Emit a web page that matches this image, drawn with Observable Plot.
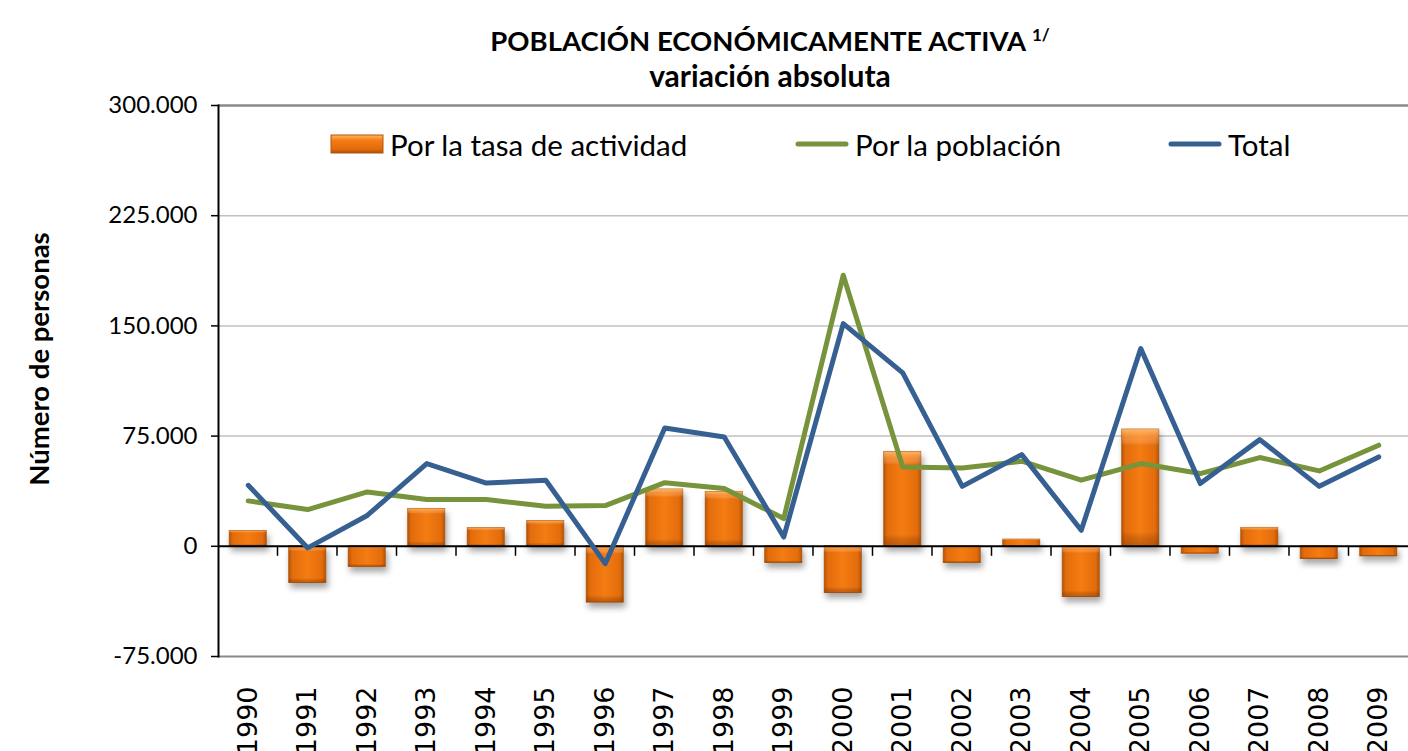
<!DOCTYPE html>
<html>
<head>
<meta charset="utf-8">
<script src="https://cdn.jsdelivr.net/npm/d3@7"></script>
<script src="https://cdn.jsdelivr.net/npm/@observablehq/plot@0.6"></script>
<style>
  html, body { margin: 0; padding: 0; background: #fff; overflow: hidden; width: 1408px; height: 751px; }
  #wrap { position: relative; width: 1408px; }
  #title { box-sizing: border-box; height: 95px; padding-top: 23px; padding-left: 132px; text-align: center;
           font-family: Lato, "Open Sans", sans-serif; font-weight: bold; font-size: 27.5px; line-height: 35px; color: #000; }
  #title .l2 { font-size: 30px; }
  #title sup { font-size: 17px; vertical-align: 10px; line-height: 0; }
  #legend { position: absolute; left: 0; top: 0; width: 1408px; height: 0; font-family: Lato, "Open Sans", sans-serif; font-size: 29.5px; color: #000; }
  .item { position: absolute; top: 126px; display: flex; align-items: center; height: 36px; white-space: nowrap; }
  .item svg { margin-right: 6px; }
  #chart .shadowbars { filter: drop-shadow(2px 5px 3px rgba(0,0,0,0.35)); }
</style>
</head>
<body>
<div id="wrap">
  <div id="title">POBLACIÓN ECONÓMICAMENTE ACTIVA <sup>1/</sup><br><span class="l2">variación absoluta</span></div>
  <div id="chart"></div>
  <div id="legend"></div>
</div>
<script>
// ---- data ----
const years = ["1990","1991","1992","1993","1994","1995","1996","1997","1998","1999",
               "2000","2001","2002","2003","2004","2005","2006","2007","2008","2009"];
const porTasa = [10400, -25000, -14000, 25400, 12300, 17200, -38300, 38600, 37000, -11300,
                 -31800, 64200, -11300, 4500, -34500, 79400, -5000, 12500, -8600, -6800];
const porPoblacion = [30900, 25000, 37000, 31800, 31800, 27200, 27700, 43300, 39300, 18900,
                      184500, 54000, 53300, 57900, 45000, 56300, 49500, 60400, 51300, 68800];
const total = [41500, -1100, 21000, 56300, 43000, 45000, -11800, 80500, 74400, 6300,
               151600, 118000, 40800, 62400, 10900, 134600, 42700, 72600, 40800, 60800];
const yTicks = [-75000, 0, 75000, 150000, 225000, 300000];
const gridTicks = [75000, 150000, 225000];
const seriesNames = ["Por la tasa de actividad", "Por la población", "Total"];
const colors = {bar: "#E46C0A", pob: "#77933C", total: "#376092"};

const data = years.map((year, i) => ({year, tasa: porTasa[i], pob: porPoblacion[i], total: total[i]}));
const fmt = d => d3.format(",")(d).replace(/,/g, ".").replace("−", "-");

// boundary ticks on the zero line, derived from the band scale
function boundaryTicks(index, scales, values, dims) {
  const sx = scales.x, sy = scales.y;
  const step = typeof sx.step === "function" ? sx.step() : (dims.width - dims.marginLeft - dims.marginRight) / years.length;
  const bw = typeof sx.bandwidth === "function" ? sx.bandwidth() : step * 0.62;
  const g = d3.create("svg:g").attr("stroke", "#000").attr("stroke-width", 1.5);
  const y0 = sy(0);
  years.slice(0, -1).forEach(yr => {
    const xb = sx(yr) + bw + (step - bw) / 2;
    g.append("line").attr("x1", xb).attr("x2", xb).attr("y1", y0).attr("y2", y0 + 10);
  });
  return g.node();
}

const chart = Plot.plot({
  width: 1408,
  height: 680,
  marginTop: 10,
  marginBottom: 119,
  marginLeft: 218,
  marginRight: 0,
  style: {fontFamily: "Lato, 'Open Sans', sans-serif", fontSize: "24px", background: "#fff", overflow: "visible"},
  x: {domain: years, type: "band", paddingInner: 0.38, paddingOuter: 0.19, round: false, axis: null},
  y: {domain: [-75000, 300000], axis: null},
  marks: [
    Plot.ruleY(gridTicks, {stroke: "#c0c0c0", strokeWidth: 1.5}),
    Plot.ruleY([300000], {stroke: "#8a8a8a", strokeWidth: 2.5}),
    Plot.ruleY([-75000], {stroke: "#8a8a8a", strokeWidth: 2}),
    Plot.frame({anchor: "left", stroke: "#000", strokeWidth: 2}),
    Plot.axisY(yTicks, {tickFormat: fmt, tickSize: 7, tickPadding: 14, fontSize: 24, stroke: "#000", strokeWidth: 1.5, label: null}),
    Plot.text(["Número de personas"], {frameAnchor: "left", textAnchor: "middle", rotate: -90, dx: -178, dy: -22,
                                       fontWeight: "bold", fontSize: 27.5, fill: "#000"}),
    Plot.barY(data, {x: "year", y: "tasa", fill: "url(#barH)", stroke: "#b2560c", strokeWidth: 1, className: "shadowbars"}),
    Plot.barY(data, {x: "year", y: "tasa", fill: "url(#barV)"}),
    Plot.ruleY([0], {stroke: "#000", strokeWidth: 2}),
    boundaryTicks,
    Plot.line(data, {x: "year", y: "pob", stroke: colors.pob, strokeWidth: 5, strokeLinejoin: "round", strokeLinecap: "round"}),
    Plot.line(data, {x: "year", y: "total", stroke: colors.total, strokeWidth: 5, strokeLinejoin: "round", strokeLinecap: "round"}),
    Plot.text(years, {x: d => d, frameAnchor: "bottom", rotate: -90, textAnchor: "end", lineAnchor: "middle", dy: 30,
                      fontSize: 27, fontFamily: "DejaVu Sans", fill: "#000"})
  ]
});

// gradients for the bevelled bars
const defs = d3.select(chart).insert("defs", ":first-child");
const gh = defs.append("linearGradient").attr("id", "barH").attr("x1", 0).attr("x2", 1).attr("y1", 0).attr("y2", 0);
[[0, "#b9560a"], [0.1, "#e36c0c"], [0.5, "#f57c12"], [0.9, "#e36c0c"], [1, "#b9560a"]]
  .forEach(([o, c]) => gh.append("stop").attr("offset", o).attr("stop-color", c));
const gv = defs.append("linearGradient").attr("id", "barV").attr("x1", 0).attr("x2", 0).attr("y1", 0).attr("y2", 1);
[[0, "#ffc27a", 0.85], [0.07, "#ffb060", 0.45], [0.14, "#ffffff", 0], [0.88, "#000000", 0], [1, "#6a2c00", 0.35]]
  .forEach(([o, c, a]) => gv.append("stop").attr("offset", o).attr("stop-color", c).attr("stop-opacity", a));

document.getElementById("chart").appendChild(chart);

// legend
const legend = d3.select("#legend");
const items = [
  {name: seriesNames[0], left: 330, type: "bar"},
  {name: seriesNames[1], left: 795, type: "line", color: colors.pob},
  {name: seriesNames[2], left: 1168, type: "line", color: colors.total}
];
items.forEach(it => {
  const div = legend.append("div").attr("class", "item").style("left", it.left + "px");
  const s = div.append("svg").attr("width", 54).attr("height", 24);
  if (it.type === "bar") {
    const d = s.append("defs");
    const g1 = d.append("linearGradient").attr("id", "lgH").attr("x1", 0).attr("x2", 0).attr("y1", 0).attr("y2", 1);
    [[0, "#ffb868"], [0.3, "#f57c12"], [0.8, "#e06a0a"], [1, "#a94e08"]].forEach(([o, c]) => g1.append("stop").attr("offset", o).attr("stop-color", c));
    s.append("rect").attr("x", 1).attr("y", 3).attr("width", 52).attr("height", 18).attr("fill", "url(#lgH)").attr("stroke", "#b2560c");
  } else {
    s.append("line").attr("x1", 3).attr("x2", 51).attr("y1", 12).attr("y2", 12).attr("stroke", it.color).attr("stroke-width", 5).attr("stroke-linecap", "round");
  }
  div.append("span").text(it.name);
});
</script>
</body>
</html>
